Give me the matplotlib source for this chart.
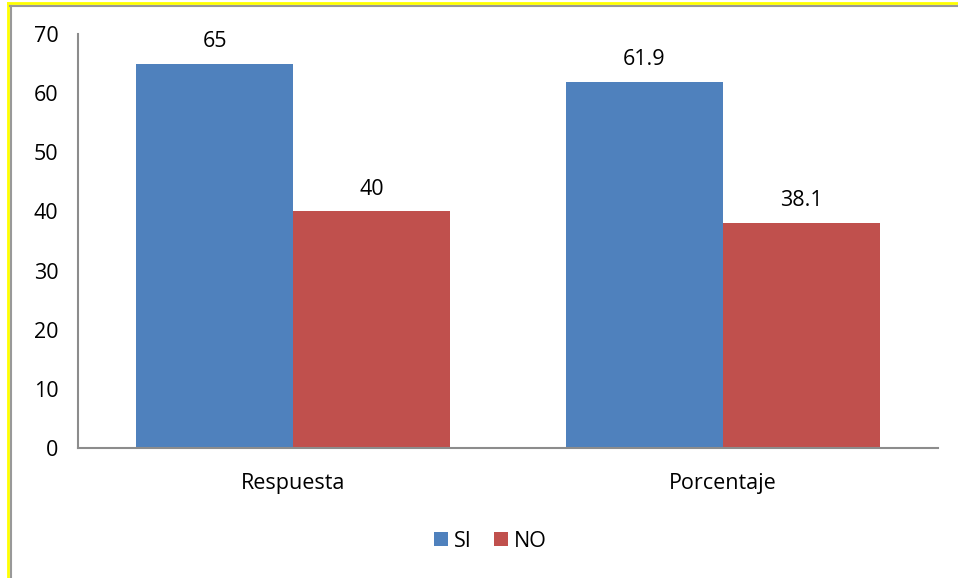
import matplotlib.pyplot as plt
import numpy as np
from matplotlib.lines import Line2D

plt.rcParams['font.family'] = ['Open Sans', 'DejaVu Sans']

categories = ['Respuesta', 'Porcentaje']
si_values = [65, 61.9]
no_values = [40, 38.1]
series_names = ['SI', 'NO']

blue = '#4F81BD'
red = '#C0504D'

fig = plt.figure(figsize=(9.58, 5.78), dpi=100)
ax = fig.add_axes([0.0814, 0.225, 0.8977, 0.716])

x = np.arange(len(categories))
w = 0.365
b1 = ax.bar(x - w / 2, si_values, w, color=blue, label=series_names[0])
b2 = ax.bar(x + w / 2, no_values, w, color=red, label=series_names[1])

for bars, vals in ((b1, si_values), (b2, no_values)):
    for rect, v in zip(bars, vals):
        ax.text(rect.get_x() + rect.get_width() / 2, v + 2.0, f'{v:g}',
                ha='center', va='bottom', fontsize=15.5)

ax.set_xlim(-0.5, 1.5)
ax.set_ylim(0, 70)
ax.set_yticks(range(0, 71, 10))
ax.set_xticks(x)
ax.set_xticklabels(categories)
ax.tick_params(axis='both', length=0, labelsize=15.5)
ax.tick_params(axis='y', pad=14)
ax.tick_params(axis='x', pad=18)
for side in ('top', 'right'):
    ax.spines[side].set_visible(False)
for side in ('left', 'bottom'):
    ax.spines[side].set_color('#8c8c8c')
    ax.spines[side].set_linewidth(1.5)

fig.legend(loc='center', bbox_to_anchor=(0.512, 0.064), ncol=2, frameon=False,
           fontsize=15.5, handlelength=0.65, handleheight=0.65,
           handletextpad=0.3, columnspacing=1.0)

# outer frame: yellow edge with a grey inner line
fig.add_artist(Line2D([8 / 958, 1], [1 - 3 / 578] * 2, color='#ffff00', lw=2, transform=fig.transFigure))
fig.add_artist(Line2D([8 / 958] * 2, [0, 1 - 3 / 578], color='#ffff00', lw=2, transform=fig.transFigure))
fig.add_artist(Line2D([10 / 958, 1], [1 - 5.5 / 578] * 2, color='#999999', lw=1.5, transform=fig.transFigure))
fig.add_artist(Line2D([10.5 / 958] * 2, [0, 1 - 5.5 / 578], color='#999999', lw=1.5, transform=fig.transFigure))

fig.savefig('out.png', dpi=100)
